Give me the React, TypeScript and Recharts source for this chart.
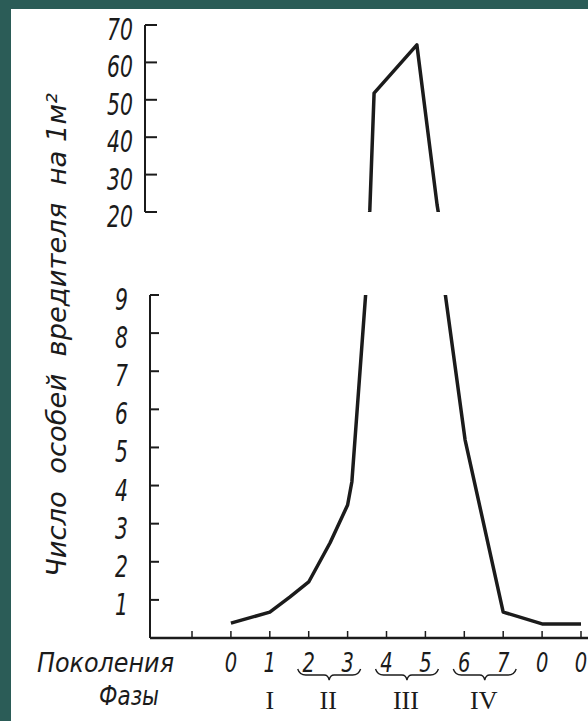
import React from 'react';
import { LineChart, Line, XAxis, YAxis, ReferenceArea } from 'recharts';

// generation (x) and number of pests per m² (y)
const generations = [0, 1, 1.52, 2, 2.55, 3, 3.11, 3.47, 3.57, 3.68, 4.78, 5.3, 5.5, 6.02, 7, 8, 9];
const pestCounts = [0.39, 0.68, 1.08, 1.47, 2.5, 3.49, 4.1, 9.1, 20.5, 51.8, 64.7, 21.9, 9.1, 5.2, 0.68, 0.37, 0.37];

const genTicks = [-1, 0, 1, 2, 3, 4, 5, 6, 7, 8, 9];
const genLabels = ['', '0', '1', '2', '3', '4', '5', '6', '7', '0', '0'];
const lowTicks = [1, 2, 3, 4, 5, 6, 7, 8, 9];
const highTicks = [20, 30, 40, 50, 60, 70];

const phaseNames = ['I', 'II', 'III', 'IV'];
const phaseFrom = [1, 2, 4, 6];
const phaseTo = [1, 3, 5, 7];

const data = generations.map((g, i) => ({ gen: g, count: pestCounts[i] }));

const INK = '#1b1b1b';
const FONT = "'DejaVu Sans', sans-serif";

const YTick = ({ x, y, payload, len, gap }: any) => (
  <g>
    <line x1={x} x2={x + len} y1={y} y2={y} stroke={INK} strokeWidth={2} />
    <text
      transform={`translate(${x - gap},${y + 15}) scale(0.68,1)`}
      textAnchor="end"
      fontFamily={FONT}
      fontStyle="italic"
      fontSize={30}
      fill={INK}
    >
      {payload.value}
    </text>
  </g>
);

const XTick = ({ x, y, payload }: any) => {
  const i = genTicks.indexOf(payload.value);
  return (
    <g>
      <line x1={x} x2={x} y1={y} y2={y - 7} stroke={INK} strokeWidth={1.5} />
      <text
        transform={`translate(${x},${y + 34}) scale(0.75,1)`}
        textAnchor="middle"
        fontFamily={FONT}
        fontStyle="italic"
        fontSize={26}
        fill={INK}
      >
        {genLabels[i]}
      </text>
    </g>
  );
};

const PhaseMark = ({ x, y, width, height, name }: any) => {
  const base = y + height;
  const mid = x + width / 2;
  const by = base + 31;
  let brace = null;
  if (width > 0) {
    const l = x - 11;
    const r = x + width + 13;
    const m = (l + r) / 2;
    brace = (
      <path
        d={`M${l},${by} q2,6 8,6 L${m - 5},${by + 6} q4,0 5,5 q1,-5 5,-5 L${r - 8},${by + 6} q6,0 8,-6`}
        fill="none"
        stroke={INK}
        strokeWidth={1.4}
      />
    );
  }
  return (
    <g>
      {brace}
      <text x={mid} y={base + 71} textAnchor="middle" fontFamily="'Liberation Serif', serif" fontSize={26} fill={INK}>
        {name}
      </text>
    </g>
  );
};

const lineProps = {
  type: 'linear' as const,
  dataKey: 'count',
  stroke: INK,
  strokeWidth: 3.5,
  strokeLinejoin: 'round' as const,
  dot: false,
  isAnimationActive: false,
};

export default function App() {
  return (
    <div style={{ position: 'absolute', left: 0, top: 0, width: 588, height: 721, background: '#2b5c57', overflow: 'hidden' }}>
      <div style={{ position: 'absolute', left: 11, top: 9, width: 577, height: 712, background: '#fff' }} />

      {/* upper part of the broken scale: 20–70 */}
      <div style={{ position: 'absolute', left: 0, top: 0 }}>
        <LineChart width={588} height={240} data={data} margin={{ top: 25, right: 0, bottom: 28, left: 0 }}>
          <XAxis dataKey="gen" type="number" domain={[-2.21, 9.18]} allowDataOverflow hide />
          <YAxis
            type="number"
            domain={[20, 70]}
            ticks={highTicks}
            allowDataOverflow
            interval={0}
            width={145}
            tickSize={0}
            tickMargin={0}
            tickLine={false}
            axisLine={{ stroke: INK, strokeWidth: 2 }}
            tick={(p: any) => <YTick {...p} len={12} gap={12} />}
          />
          <Line {...lineProps} />
        </LineChart>
      </div>

      {/* lower part: 0–9 */}
      <div style={{ position: 'absolute', left: 0, top: 240 }}>
        <LineChart width={588} height={481} data={data} margin={{ top: 55, right: 0, bottom: 0, left: 0 }}>
          <XAxis
            dataKey="gen"
            type="number"
            domain={[-2.08, 9.18]}
            allowDataOverflow
            ticks={genTicks}
            interval={0}
            height={83}
            tickSize={0}
            tickMargin={0}
            tickLine={false}
            axisLine={{ stroke: INK, strokeWidth: 2.5 }}
            tick={XTick}
          />
          <YAxis
            type="number"
            domain={[0, 9]}
            ticks={lowTicks}
            allowDataOverflow
            interval={0}
            width={150}
            tickSize={0}
            tickMargin={0}
            tickLine={false}
            axisLine={{ stroke: INK, strokeWidth: 2 }}
            tick={(p: any) => <YTick {...p} len={9} gap={22} />}
          />
          {phaseNames.map((name, i) => (
            <ReferenceArea
              key={name}
              x1={phaseFrom[i]}
              x2={phaseTo[i]}
              y1={0}
              y2={0.3}
              ifOverflow="visible"
              shape={(p: any) => <PhaseMark {...p} name={name} />}
            />
          ))}
          <Line {...lineProps} />
        </LineChart>
      </div>

      <svg width={588} height={721} style={{ position: 'absolute', left: 0, top: 0, pointerEvents: 'none' }}>
        <text
          transform="translate(66,335) rotate(-90)"
          textAnchor="middle"
          textLength={484}
          lengthAdjust="spacingAndGlyphs"
          fontFamily={FONT}
          fontStyle="italic"
          fontSize={26}
          fill={INK}
          style={{ whiteSpace: 'pre' }}
        >
          {'Число  особей  вредителя  на 1м²'}
        </text>
        <text x={37} y={672} textLength={137} lengthAdjust="spacingAndGlyphs" fontFamily={FONT} fontStyle="italic" fontSize={26} fill={INK}>
          Поколения
        </text>
        <text x={99} y={705} textLength={60} lengthAdjust="spacingAndGlyphs" fontFamily={FONT} fontStyle="italic" fontSize={26} fill={INK}>
          Фазы
        </text>
      </svg>
    </div>
  );
}
